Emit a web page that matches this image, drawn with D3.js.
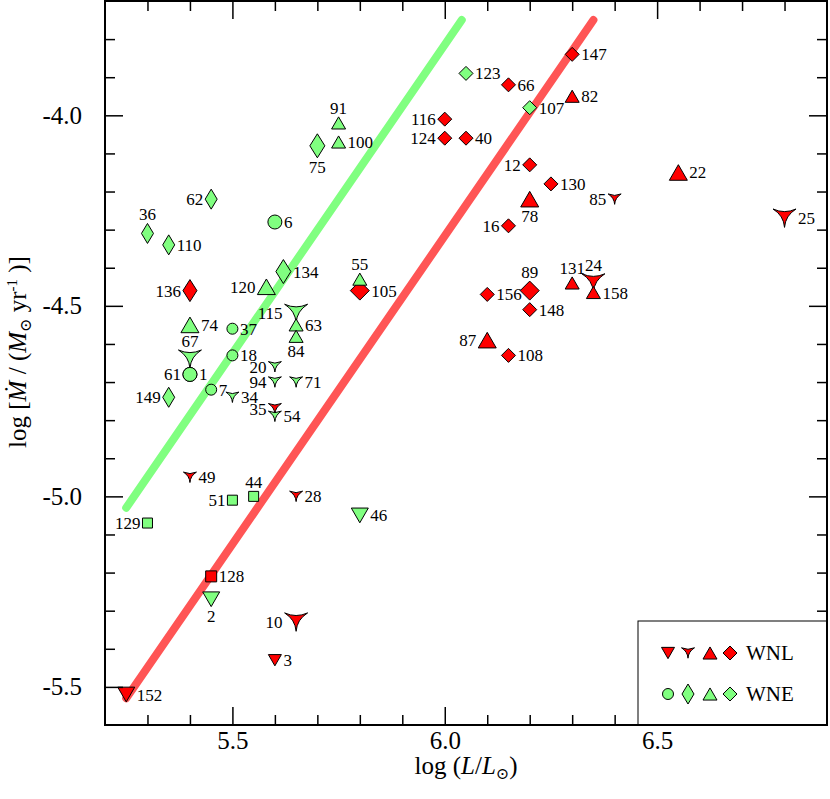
<!DOCTYPE html>
<html lang="en">
<head>
<meta charset="utf-8">
<title>Mass-loss rate vs luminosity</title>
<script src="https://cdn.jsdelivr.net/npm/d3@7/dist/d3.min.js"></script>
<style>
  body { margin: 0; background: #fff; }
</style>
</head>
<body>
<div id="chart"></div>
<script>
// star numbers, log L, log Mdot, symbol set, label side (l/r/t/b)
var names = ["152", "3", "10", "128", "28", "49", "35", "136", "105", "116",
             "124", "40", "66", "147", "82", "12", "130", "78", "85", "16",
             "22", "25", "156", "89", "148", "131", "24", "158", "87", "108",
             "129", "51", "44", "2", "46", "36", "110", "62", "6", "75",
             "91", "100", "134", "120", "55", "123", "107", "74", "37", "18",
             "67", "61", "1", "7", "149", "34", "115", "63", "84", "20",
             "94", "71", "54"];
var logL = [5.25, 5.60, 5.65, 5.45, 5.65, 5.40, 5.60, 5.40, 5.80, 6.00,
            6.00, 6.05, 6.15, 6.30, 6.30, 6.20, 6.25, 6.20, 6.40, 6.15,
            6.55, 6.80, 6.10, 6.20, 6.20, 6.30, 6.35, 6.35, 6.10, 6.15,
            5.30, 5.50, 5.55, 5.45, 5.80, 5.30, 5.35, 5.45, 5.60, 5.70,
            5.75, 5.75, 5.62, 5.58, 5.80, 6.05, 6.20, 5.40, 5.50, 5.50,
            5.40, 5.40, 5.40, 5.45, 5.35, 5.50, 5.65, 5.65, 5.65, 5.60,
            5.60, 5.65, 5.60];
var logMdot = [-5.52, -5.43, -5.33, -5.21, -5.00, -4.95, -4.77, -4.46, -4.46, -4.01,
               -4.06, -4.06, -3.92, -3.84, -3.95, -4.13, -4.18, -4.22, -4.22, -4.29,
               -4.15, -4.27, -4.47, -4.46, -4.51, -4.44, -4.44, -4.465, -4.59, -4.63,
               -5.07, -5.01, -5.00, -5.27, -5.05, -4.31, -4.34, -4.22, -4.28, -4.08,
               -4.02, -4.07, -4.41, -4.45, -4.43, -3.89, -3.98, -4.55, -4.56, -4.63,
               -4.64, -4.68, -4.68, -4.72, -4.74, -4.74, -4.52, -4.55, -4.58, -4.66,
               -4.70, -4.70, -4.79];
var symbolSet = ["wnlDownL", "wnlDownS", "wnlStarL", "wnlSq", "wnlStarS", "wnlStarS", "wnlStarS", "wnlDiaT", "wnlDiaL", "wnlDia",
                 "wnlDia", "wnlDia", "wnlDia", "wnlDia", "wnlTriS", "wnlDia", "wnlDia", "wnlTriL", "wnlStarS", "wnlDia",
                 "wnlTriL", "wnlStarL", "wnlDia", "wnlDiaL", "wnlDia", "wnlTriS", "wnlStarL", "wnlTriS", "wnlTriL", "wnlDia",
                 "wneSq", "wneSq", "wneSq", "wneDown", "wneDown", "wneDiaT", "wneDiaT", "wneDiaT", "wneCircL", "wneDiaTL",
                 "wneTriS", "wneTriS", "wneDiaTL", "wneTriL", "wneTriS", "wneDia", "wneDia", "wneTriL", "wneCirc", "wneCirc",
                 "wneStarL", "wneCircL", "wneCircL", "wneCirc", "wneDiaT", "wneStarS", "wneStarL", "wneTriS", "wneTriS", "wneStarS",
                 "wneStarS", "wneStarS", "wneStarS"];
var labelSide = ["r", "r", "l", "r", "r", "r", "l", "l", "r", "l",
                 "l", "r", "r", "r", "r", "l", "r", "b", "l", "l",
                 "r", "r", "r", "t", "r", "t", "t", "r", "l", "r",
                 "l", "l", "t", "b", "r", "t", "r", "l", "r", "b",
                 "t", "r", "r", "l", "t", "r", "r", "r", "r", "r",
                 "t", "l", "r", "r", "l", "r", "l", "r", "b", "l",
                 "l", "r", "r"];

// the two straight lines
var greenLineL = [5.25, 6.04];
var greenLineM = [-5.03, -3.75];
var redLineL = [5.25, 6.35];
var redLineM = [-5.53, -3.75];

var xTicks = [5.5, 6.0, 6.5];
var yTicks = [-5.5, -5.0, -4.5, -4.0];
var legendRows = ["WNL", "WNE"];
var legendSets = [["wnlDownS", "wnlStarS", "wnlTriS", "wnlDia"],
                  ["wneCirc", "wneDiaT", "wneTriS", "wneDia"]];

// symbol styles per set
var RED = "#ff0000", GREEN = "#80ff80";
var styles = {
    wnlDownL: {shape: "dtri", w: 8.5, fill: RED},
    wnlDownS: {shape: "dtri", w: 6.5, fill: RED},
    wnlStarL: {shape: "star", w: 11.5, fill: RED},
    wnlStarS: {shape: "star", w: 6.5, fill: RED},
    wnlTriL: {shape: "tri", w: 9, fill: RED},
    wnlTriS: {shape: "tri", w: 7, fill: RED},
    wnlDia: {shape: "dia", w: 7, h: 7, fill: RED},
    wnlDiaL: {shape: "dia", w: 9.5, h: 9.5, fill: RED},
    wnlDiaT: {shape: "dia", w: 7, h: 11, fill: RED},
    wnlSq: {shape: "sq", w: 5.5, fill: RED},
    wneDown: {shape: "dtri", w: 8.5, fill: GREEN},
    wneStarL: {shape: "star", w: 11.5, fill: GREEN},
    wneStarS: {shape: "star", w: 6.5, fill: GREEN},
    wneTriL: {shape: "tri", w: 9, fill: GREEN},
    wneTriS: {shape: "tri", w: 7, fill: GREEN},
    wneDia: {shape: "dia", w: 7, h: 7, fill: GREEN},
    wneDiaT: {shape: "dia", w: 6, h: 10, fill: GREEN},
    wneDiaTL: {shape: "dia", w: 7.5, h: 12, fill: GREEN},
    wneCirc: {shape: "circ", w: 5.5, fill: GREEN},
    wneCircL: {shape: "circ", w: 7, fill: GREEN},
    wneSq: {shape: "sq", w: 5, fill: GREEN}
};

var FONT = "'Liberation Serif', 'Times New Roman', 'DejaVu Serif', serif";
var width = 830, height = 799;
var plot = {left: 105, right: 827, top: 1, bottom: 725};

var svg = d3.select("#chart").append("svg")
    .attr("width", width)
    .attr("height", height)
    .style("font-family", FONT);

svg.append("rect").attr("width", width).attr("height", height).attr("fill", "#fff");

var x = d3.scaleLinear().domain([5.2, 6.9]).range([plot.left, plot.right]);
var y = d3.scaleLinear().domain([-5.6, -3.7]).range([plot.bottom, plot.top]);

// half height of a symbol
function halfH(s) {
    if (s.shape == "dia") return s.h;
    if (s.shape == "tri" || s.shape == "dtri") return s.w * 0.866;
    if (s.shape == "star") return s.w * 0.8;
    return s.w;
}

function symbolPath(s) {
    var w = s.w, h = halfH(s);
    if (s.shape == "dtri") return "M" + (-w) + "," + (-h) + "L" + w + "," + (-h) + "L0," + h + "Z";
    if (s.shape == "tri") return "M" + (-w) + "," + h + "L" + w + "," + h + "L0," + (-h) + "Z";
    if (s.shape == "dia") return "M0," + (-h) + "L" + w + ",0L0," + h + "L" + (-w) + ",0Z";
    if (s.shape == "sq") return "M" + (-w) + "," + (-w) + "H" + w + "V" + w + "H" + (-w) + "Z";
    if (s.shape == "circ") return "M" + w + ",0A" + w + "," + w + " 0 1,1 " + (-w) + ",0A" + w + "," + w + " 0 1,1 " + w + ",0Z";
    // concave down-pointing triangle
    var k = 0.85, cy = -h / 3;
    function ctrl(ax, ay, bx, by) {
        var mx = (ax + bx) / 2, my = (ay + by) / 2;
        return (mx + k * (0 - mx)) + "," + (my + k * (cy - my));
    }
    return "M" + (-w) + "," + (-h) +
        "Q" + ctrl(-w, -h, w, -h) + " " + w + "," + (-h) +
        "Q" + ctrl(w, -h, 0, h) + " 0," + h +
        "Q" + ctrl(0, h, -w, -h) + " " + (-w) + "," + (-h) + "Z";
}

// clip for the lines
svg.append("clipPath").attr("id", "clip")
    .append("rect")
    .attr("x", plot.left).attr("y", plot.top)
    .attr("width", plot.right - plot.left).attr("height", plot.bottom - plot.top);

var line = d3.line().x(function(d) { return x(d[0]); }).y(function(d) { return y(d[1]); });

svg.append("path")
    .attr("d", line(d3.zip(greenLineL, greenLineM)))
    .attr("stroke", "#80ff80").attr("stroke-width", 8).attr("fill", "none")
    .attr("stroke-linecap", "round").attr("clip-path", "url(#clip)");
svg.append("path")
    .attr("d", line(d3.zip(redLineL, redLineM)))
    .attr("stroke", "#ff5555").attr("stroke-width", 8).attr("fill", "none")
    .attr("stroke-linecap", "round").attr("clip-path", "url(#clip)");

// points
var data = names.map(function(n, i) {
    return {name: n, L: logL[i], M: logMdot[i], set: symbolSet[i], side: labelSide[i]};
});

var pts = svg.selectAll(".pt")
    .data(data)
    .enter()
    .append("g")
    .attr("class", "pt")
    .attr("transform", function(d) { return "translate(" + x(d.L) + "," + y(d.M) + ")"; });

pts.append("path")
    .attr("d", function(d) { return symbolPath(styles[d.set]); })
    .attr("fill", function(d) { return styles[d.set].fill; })
    .attr("stroke", "#000")
    .attr("stroke-width", 1);

pts.append("text")
    .style("font-family", FONT)
    .attr("font-size", 17)
    .attr("text-anchor", function(d) {
        return d.side == "r" ? "start" : d.side == "l" ? "end" : "middle";
    })
    .attr("x", function(d) {
        var s = styles[d.set];
        if (d.side == "r") return s.w + 2;
        if (d.side == "l") return -s.w - 2;
        return 0;
    })
    .attr("y", function(d) {
        var h = halfH(styles[d.set]);
        if (d.side == "t") return -h - 3;
        if (d.side == "b") return h + 15;
        return 6;
    })
    .text(function(d) { return d.name; });

// axes: major and minor ticks on all four sides, pointing inward
var xMinor = d3.range(5.3, 6.85, 0.1).filter(function(v) { return Math.abs(v * 2 - Math.round(v * 2)) > 1e-6; });
var yMinor = d3.range(-5.5, -3.75, 0.1).filter(function(v) { return Math.abs(v * 2 - Math.round(v * 2)) > 1e-6; });
var fmt = function(v) { return d3.format(".1f")(v).replace("\u2212", "-"); };

function addAxis(axis, tx, ty) {
    var g = svg.append("g").attr("transform", "translate(" + tx + "," + ty + ")").call(axis);
    g.attr("font-family", null);
    g.select(".domain").remove();
    g.selectAll(".tick line").attr("stroke-width", 1.5);
    g.selectAll("text").style("font-family", FONT).attr("font-size", 25);
    return g;
}

addAxis(d3.axisBottom(x).tickValues(xTicks).tickSize(-18).tickPadding(6).tickFormat(fmt), 0, plot.bottom);
addAxis(d3.axisBottom(x).tickValues(xMinor).tickSize(-10).tickFormat(""), 0, plot.bottom);
addAxis(d3.axisTop(x).tickValues(xTicks).tickSize(-18).tickFormat(""), 0, plot.top);
addAxis(d3.axisTop(x).tickValues(xMinor).tickSize(-10).tickFormat(""), 0, plot.top);
addAxis(d3.axisLeft(y).tickValues(yTicks).tickSize(-18).tickPadding(23).tickFormat(fmt), plot.left, 0);
addAxis(d3.axisLeft(y).tickValues(yMinor).tickSize(-10).tickFormat(""), plot.left, 0);
addAxis(d3.axisRight(y).tickValues(yTicks).tickSize(-18).tickFormat(""), plot.right, 0);
addAxis(d3.axisRight(y).tickValues(yMinor).tickSize(-10).tickFormat(""), plot.right, 0);

// legend
var legend = svg.append("g").attr("transform", "translate(638,621)");
legend.append("rect")
    .attr("width", plot.right - 638).attr("height", plot.bottom - 621)
    .attr("fill", "#fff").attr("stroke", "#000").attr("stroke-width", 1);

legendRows.forEach(function(label, r) {
    var row = legend.append("g").attr("transform", "translate(0," + (32 + r * 41) + ")");
    legendSets[r].forEach(function(setName, j) {
        row.append("path")
            .attr("transform", "translate(" + [30, 50, 72, 92][j] + ",0)")
            .attr("d", symbolPath(styles[setName]))
            .attr("fill", styles[setName].fill)
            .attr("stroke", "#000").attr("stroke-width", 1);
    });
    row.append("text").style("font-family", FONT).attr("x", 108).attr("y", 7).attr("font-size", 21).text(label);
});

// frame
svg.append("rect")
    .attr("x", plot.left).attr("y", plot.top)
    .attr("width", plot.right - plot.left).attr("height", plot.bottom - plot.top)
    .attr("fill", "none").attr("stroke", "#000").attr("stroke-width", 2);

// axis titles
var xt = svg.append("text").style("font-family", FONT)
    .attr("x", (plot.left + plot.right) / 2).attr("y", 774)
    .attr("text-anchor", "middle").attr("font-size", 25);
xt.append("tspan").text("log (");
xt.append("tspan").attr("font-style", "italic").text("L");
xt.append("tspan").text("/");
xt.append("tspan").attr("font-style", "italic").text("L");
xt.append("tspan").attr("font-size", 16).attr("dy", 5).text("\u2299");
xt.append("tspan").attr("dy", -5).text(")");

var yt = svg.append("text").style("font-family", FONT)
    .attr("transform", "translate(26,352) rotate(-90)")
    .attr("text-anchor", "middle").attr("font-size", 25);
yt.append("tspan").text("log [");
yt.append("tspan").attr("font-style", "italic").text("\u1E40");
yt.append("tspan").text(" / (");
yt.append("tspan").attr("font-style", "italic").text("M");
yt.append("tspan").attr("font-size", 16).attr("dy", 5).text("\u2299");
yt.append("tspan").attr("dy", -5).text(" yr");
yt.append("tspan").attr("font-size", 15).attr("dy", -9).text("-1");
yt.append("tspan").attr("dy", 9).text(" )]");
</script>
</body>
</html>
